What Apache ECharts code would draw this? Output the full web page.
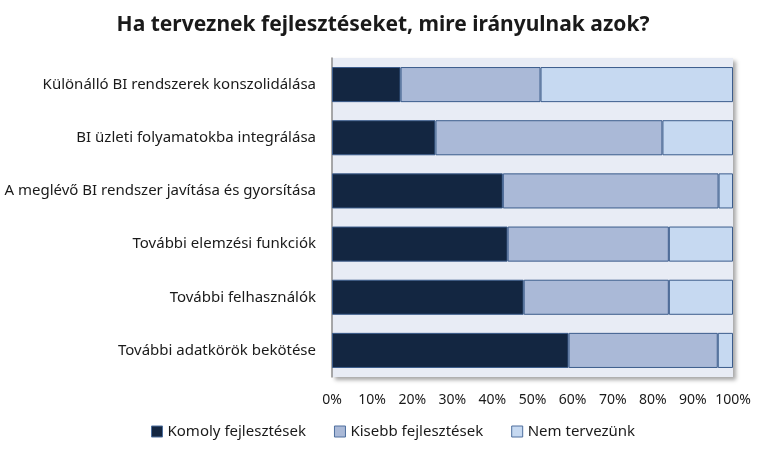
<!DOCTYPE html>
<html>
<head>
<meta charset="utf-8">
<script src="https://cdn.jsdelivr.net/npm/echarts@6/dist/echarts.min.js"></script>
<style>
  html, body { margin: 0; padding: 0; background: #fff; }
  #chart { width: 766px; height: 456px; }
</style>
</head>
<body>
<div id="chart"></div>
<script>
// kategóriák fentről lefelé
const categories = [
  'Különálló BI rendszerek konszolidálása',
  'BI üzleti folyamatokba integrálása',
  'A meglévő BI rendszer javítása és gyorsítása',
  'További elemzési funkciók',
  'További felhasználók',
  'További adatkörök bekötése'
]
const komoly = [17.1, 25.8, 42.6, 43.8, 47.8, 59.0]
const kisebb = [34.9, 56.6, 53.8, 40.2, 36.2, 37.2]
const nemTervezunk = [48.0, 17.6, 3.6, 16.0, 16.0, 3.8]
const xTicks = [0, 10, 20, 30, 40, 50, 60, 70, 80, 90, 100]

const font = 'Noto Sans'
const chart = echarts.init(document.getElementById('chart'))

const makeSeries = (name, data, color) => ({
  name,
  type: 'bar',
  stack: 'total',
  data,
  barCategoryGap: '34%',
  itemStyle: {
    color,
    borderColor: '#3B5C8C',
    borderWidth: 1
  }
})

chart.setOption({
  animation: false,
  title: {
    text: 'Ha terveznek fejlesztéseket, mire irányulnak azok?',
    left: 'center',
    top: 10,
    textStyle: {
      fontFamily: font,
      fontSize: 21,
      fontWeight: 'bold',
      color: '#1a1a1a'
    }
  },
  legend: {
    bottom: 12,
    left: 146,
    itemWidth: 11,
    itemHeight: 11,
    itemGap: 28,
    icon: 'rect',
    textStyle: { fontFamily: font, fontSize: 15, color: '#1a1a1a' },
    itemStyle: { borderColor: '#4E6F9E', borderWidth: 1 }
  },
  grid: {
    left: 332,
    right: 33,
    top: 58,
    bottom: 79,
    show: true,
    backgroundColor: '#E8ECF5',
    borderWidth: 0,
    shadowColor: 'rgba(0,0,0,0.35)',
    shadowBlur: 4,
    shadowOffsetX: 3,
    shadowOffsetY: 3
  },
  xAxis: {
    type: 'value',
    min: 0,
    max: 100,
    interval: 10,
    axisLine: { show: false },
    axisTick: { show: false },
    splitLine: { show: false },
    axisLabel: {
      formatter: v => xTicks.includes(v) ? v + '%' : '',
      margin: 16,
      fontFamily: font,
      fontSize: 14,
      color: '#1a1a1a'
    }
  },
  yAxis: {
    type: 'category',
    inverse: true,
    data: categories,
    axisLine: { show: true, lineStyle: { color: '#8C8C8C', width: 1.5 } },
    axisTick: { show: false },
    axisLabel: {
      margin: 16,
      fontFamily: font,
      fontSize: 15,
      color: '#1a1a1a'
    }
  },
  series: [
    makeSeries('Komoly fejlesztések', komoly, '#132641'),
    makeSeries('Kisebb fejlesztések', kisebb, '#AAB9D7'),
    makeSeries('Nem tervezünk', nemTervezunk, '#C6D9F1')
  ]
})
</script>
</body>
</html>
